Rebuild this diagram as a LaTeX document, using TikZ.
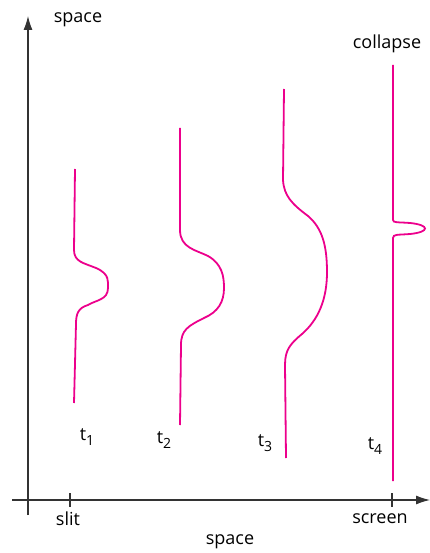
\documentclass[tikz,border=0pt]{standalone}
\usepackage{fontspec}
\setmainfont{Open Sans}
\usetikzlibrary{arrows.meta}
\definecolor{wave}{HTML}{EC008C}
\definecolor{axis}{HTML}{333333}
\newcommand{\tsub}[1]{t\raisebox{-0.45ex}{\fontsize{14}{16}\selectfont #1}}
\begin{document}
\begin{tikzpicture}[x=1pt,y=-1pt,
  wavepath/.style={draw=wave,line width=1.8pt},
  axisline/.style={draw=axis,line width=1.1pt},
  lbl/.style={font=\fontsize{18}{21}\selectfont,text=black,inner sep=0pt}]
\useasboundingbox (0,0) rectangle (430,553);
% axes
\coordinate (yb) at (28,515);
\coordinate (yt) at (28,16);
\coordinate (xl) at (12,500);
\coordinate (xr) at (430,500);
\draw[axisline,-{Latex[length=14pt,width=9pt]}] (yb) -- (yt);
\draw[axisline,-{Latex[length=14pt,width=9pt]}] (xl) -- (xr);
\coordinate (s1) at (70,493); \coordinate (s2) at (70,507);
\coordinate (c1) at (392,493); \coordinate (c2) at (392,507);
\draw[axisline] (s1) -- (s2);
\draw[axisline] (c1) -- (c2);
% labels
\node[lbl] (ys) at (78,20) {space};
\node[lbl] (xs) at (230,542) {space};
\node[lbl] (slit) at (68,519) {slit};
\node[lbl] (screen) at (380,519) {screen};
\node[lbl] (coll) at (387,44) {collapse};
\node[lbl] (t1) at (87,437) {\tsub{1}};
\node[lbl] (t2) at (164,440) {\tsub{2}};
\node[lbl] (t3) at (265,443) {\tsub{3}};
\node[lbl] (t4) at (375,446) {\tsub{4}};
% wave 1
\draw[wavepath] (75,169) -- (74,250)
  .. controls (74,262) and (84,263) .. (96,268)
  .. controls (110,274) and (108,282) .. (108,288)
  .. controls (108,300) and (96,300) .. (88,305)
  .. controls (78,308) and (76,314) .. (76,324)
  -- (74,403);
% wave 2
\draw[wavepath] (180,128) -- (180,230)
  .. controls (180,248) and (196,250) .. (208,256)
  .. controls (222,264) and (224,276) .. (224,288)
  .. controls (224,302) and (218,312) .. (204,318)
  .. controls (188,326) and (181,330) .. (181,345)
  -- (180,425);
% wave 3
\draw[wavepath] (284,89) -- (283,180)
  .. controls (284,196) and (292,204) .. (308,216)
  .. controls (322,228) and (327,245) .. (327,272)
  .. controls (327,300) and (318,320) .. (302,334)
  .. controls (290,344) and (285,350) .. (285,365)
  -- (286,458);
% wave 4
\draw[wavepath] (393,65) -- (393,220)
  .. controls (393,223) and (398,222) .. (410,223)
  .. controls (430,225) and (430,232) .. (410,234)
  .. controls (398,235) and (393,234) .. (393,238)
  -- (393,481);
\end{tikzpicture}
\end{document}
